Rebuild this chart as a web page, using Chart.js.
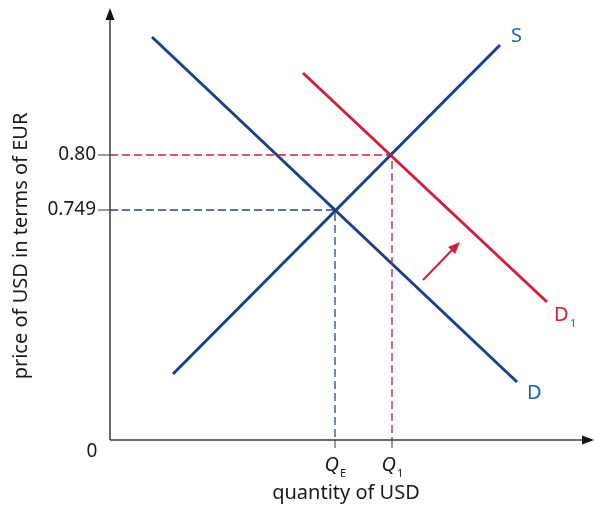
<!DOCTYPE html>
<html>
<head>
<meta charset="utf-8">
<script src="https://cdn.jsdelivr.net/npm/chart.js@4.4.1/dist/chart.umd.min.js"></script>
<style>
  html, body { margin: 0; padding: 0; background: #fff; }
  #wrap { width: 594px; height: 506px; position: relative; }
</style>
</head>
<body>
<div id="wrap"><canvas id="chart"></canvas></div>
<script>
// schematic units: quantity on x, price on y (not to scale)
const demand = [[42, 403], [407, 58]];
const supply = [[63, 66], [390, 395]];
const demandNew = [[193, 367], [437, 138]];
const shiftArrow = [[313, 160], [350, 198]];

const equilibrium = [225, 230];
const equilibriumNew = [282, 285];

const yTickValues = [equilibrium[1], equilibriumNew[1]];
const yTickLabels = ['0.749', '0.80'];
const xTickValues = [equilibrium[0], equilibriumNew[0]];
const xTickSubs = ['E', '1'];

const BLUE = '#1c3f8c';
const BLUE_TXT = '#1466b8';
const RED = '#d21f3c';
const TXT = '#1a1a1a';
const FONT = '"Noto Sans", "Open Sans", sans-serif';

const toPts = arr => arr.map(p => ({ x: p[0], y: p[1] }));

const annotations = {
  id: 'annotations',
  afterDatasetsDraw(chart) {
    const ctx = chart.ctx;
    const xs = chart.scales.x, ys = chart.scales.y;
    const X = v => xs.getPixelForValue(v);
    const Y = v => ys.getPixelForValue(v);
    const ox = X(0), oy = Y(0);

    ctx.save();
    // axes
    ctx.strokeStyle = '#3a3a3a';
    ctx.lineWidth = 1.5;
    ctx.beginPath();
    ctx.moveTo(ox, oy); ctx.lineTo(ox, chart.chartArea.top + 6);
    ctx.moveTo(ox, oy); ctx.lineTo(chart.chartArea.right - 6, oy);
    ctx.stroke();
    ctx.fillStyle = '#111';
    ctx.beginPath();
    ctx.moveTo(ox, chart.chartArea.top);
    ctx.lineTo(ox - 4.5, chart.chartArea.top + 12);
    ctx.lineTo(ox + 4.5, chart.chartArea.top + 12);
    ctx.closePath(); ctx.fill();
    ctx.beginPath();
    ctx.moveTo(chart.chartArea.right, oy);
    ctx.lineTo(chart.chartArea.right - 12, oy - 4.5);
    ctx.lineTo(chart.chartArea.right - 12, oy + 4.5);
    ctx.closePath(); ctx.fill();

    // tick marks
    ctx.strokeStyle = '#3a3a3a';
    ctx.lineWidth = 1;
    ctx.beginPath();
    yTickValues.forEach(v => { ctx.moveTo(ox - 12, Y(v)); ctx.lineTo(ox, Y(v)); });
    xTickValues.forEach(v => { ctx.moveTo(X(v), oy); ctx.lineTo(X(v), oy + 8); });
    ctx.stroke();

    // tick labels
    ctx.fillStyle = TXT;
    ctx.font = '19px ' + FONT;
    ctx.textAlign = 'right';
    ctx.textBaseline = 'middle';
    yTickValues.forEach((v, i) => ctx.fillText(yTickLabels[i], ox - 14, Y(v)));
    ctx.textAlign = 'center';
    ctx.fillText('0', ox - 18, oy + 12);

    xTickValues.forEach((v, i) => {
      ctx.font = 'italic 20px ' + FONT;
      ctx.textAlign = 'right';
      ctx.textBaseline = 'alphabetic';
      ctx.fillText('Q', X(v) + 4, oy + 31);
      ctx.font = '11px ' + FONT;
      ctx.textAlign = 'left';
      ctx.fillText(xTickSubs[i], X(v) + 5, oy + 37);
    });

    // axis titles
    ctx.font = '20px ' + FONT;
    ctx.textAlign = 'center';
    ctx.textBaseline = 'middle';
    ctx.fillText('quantity of USD', 346, 493);
    ctx.save();
    ctx.translate(21, 246);
    ctx.rotate(-Math.PI / 2);
    ctx.fillText('price of USD in terms of EUR', 0, 0);
    ctx.restore();

    // curve labels
    ctx.font = '20px ' + FONT;
    ctx.textAlign = 'left';
    ctx.textBaseline = 'middle';
    ctx.fillStyle = BLUE_TXT;
    ctx.fillText('S', X(supply[1][0]) + 11, Y(supply[1][1]) - 9);
    ctx.fillText('D', X(demand[1][0]) + 10, Y(demand[1][1]) + 11);
    ctx.fillStyle = RED;
    ctx.fillText('D', X(demandNew[1][0]) + 7, Y(demandNew[1][1]) + 13);
    ctx.font = '11px ' + FONT;
    ctx.fillText('1', X(demandNew[1][0]) + 23, Y(demandNew[1][1]) + 22);

    // arrow head on the shift arrow
    const ax0 = X(shiftArrow[0][0]), ay0 = Y(shiftArrow[0][1]);
    const ax1 = X(shiftArrow[1][0]), ay1 = Y(shiftArrow[1][1]);
    const ang = Math.atan2(ay1 - ay0, ax1 - ax0);
    ctx.fillStyle = RED;
    ctx.beginPath();
    ctx.moveTo(ax1, ay1);
    ctx.lineTo(ax1 - 12 * Math.cos(ang) + 5 * Math.sin(ang), ay1 - 12 * Math.sin(ang) - 5 * Math.cos(ang));
    ctx.lineTo(ax1 - 12 * Math.cos(ang) - 5 * Math.sin(ang), ay1 - 12 * Math.sin(ang) + 5 * Math.cos(ang));
    ctx.closePath(); ctx.fill();
    ctx.restore();
  }
};

const solid = (data, color) => ({
  data: toPts(data), showLine: true, borderColor: color, borderWidth: 3,
  pointRadius: 0, fill: false
});
const dashed = (pt, color) => ({
  data: [{ x: 0, y: pt[1] }, { x: pt[0], y: pt[1] }, { x: pt[0], y: 0 }],
  showLine: true, borderColor: color, borderWidth: 1.3, borderDash: [8, 4],
  pointRadius: 0, fill: false
});

new Chart(document.getElementById('chart'), {
  type: 'scatter',
  data: {
    datasets: [
      dashed(equilibrium, '#23477a'),
      dashed(equilibriumNew, '#c81e38'),
      solid(demand, BLUE),
      solid(supply, BLUE),
      solid(demandNew, RED),
      { data: toPts(shiftArrow.map((p, i) => i === 1 ? [p[0] - 4, p[1] - 4] : p)), showLine: true,
        borderColor: RED, borderWidth: 2, pointRadius: 0 }
    ]
  },
  options: {
    responsive: true,
    maintainAspectRatio: false,
    animation: false,
    layout: { padding: { left: 110, right: 0, top: 8, bottom: 66 } },
    plugins: { legend: { display: false }, tooltip: { enabled: false } },
    scales: {
      x: { type: 'linear', min: 0, max: 484, display: false },
      y: { type: 'linear', min: 0, max: 432, display: false }
    }
  },
  plugins: [annotations]
});
</script>
</body>
</html>
